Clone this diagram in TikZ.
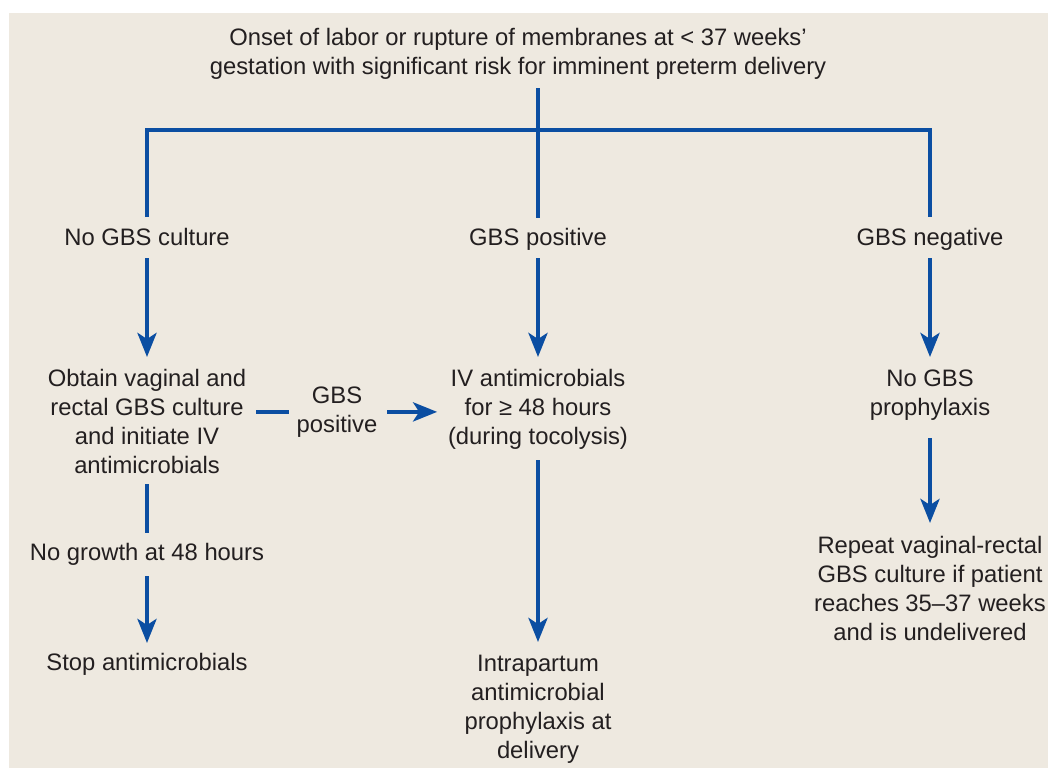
\documentclass[tikz,border=0pt]{standalone}
\usepackage{fontspec}
\setmainfont{Liberation Sans}
\usetikzlibrary{arrows.meta}
\definecolor{bgc}{HTML}{EEE9E0}
\definecolor{flow}{HTML}{0B4EA2}
\definecolor{ink}{HTML}{231F20}
\newcommand\fsz{\fontsize{23.8pt}{29pt}\selectfont}
\begin{document}
\begin{tikzpicture}[x=1pt,y=-1pt,
  txt/.style={font=\fsz, text=ink, align=center, inner sep=0pt, anchor=north},
  ln/.style={draw=flow, line width=4.3pt},
  arr/.style={ln, -{Stealth[length=24pt,width=19pt,inset=6pt]}}]
\useasboundingbox (0,0) rectangle (1048,768);
\fill[white] (0,0) rectangle (1048,768);
\fill[bgc] (9,13) rectangle (1048,768);
% nodes
\node[txt] (top) at (518,24.7) {\strut Onset of labor or rupture of membranes at < 37 weeks’\\gestation with significant risk for imminent preterm delivery\strut};
\node[txt] (nocult) at (147,224.7) {\strut No GBS culture\strut};
\node[txt] (gpos) at (538,224.7) {\strut GBS positive\strut};
\node[txt] (gneg) at (930,224.7) {\strut GBS negative\strut};
\node[txt] (obtain) at (147,365.7) {\strut Obtain vaginal and\\rectal GBS culture\\and initiate IV\\antimicrobials\strut};
\node[txt] (gbspl) at (337,382.7) {\strut GBS\\positive\strut};
\node[txt] (iv) at (538,365.7) {\strut IV antimicrobials\\for ≥ 48 hours\\(during tocolysis)\strut};
\node[txt] (noproph) at (930,365.7) {\strut No GBS\\prophylaxis\strut};
\node[txt] (nogrowth) at (147,539.7) {\strut No growth at 48 hours\strut};
\node[txt] (stop) at (147,649.7) {\strut Stop antimicrobials\strut};
\node[txt] (intra) at (538,650.7) {\strut Intrapartum\\antimicrobial\\prophylaxis at\\delivery\strut};
\node[txt] (repeat) at (930,532.7) {\strut Repeat vaginal-rectal\\GBS culture if patient\\reaches 35–37 weeks\\and is undelivered\strut};
\coordinate (jc) at (538,130);
% connectors
\draw[ln, shorten <=5.3pt, shorten >=6.7pt] (top.south -| gpos.north) -- (gpos.north);
\draw[ln, shorten <=7.7pt, shorten >=7.7pt] (nocult.north) |- (jc) -| (gneg.north);
\draw[arr, shorten <=4.3pt, shorten >=8.7pt] (nocult.south) -- (obtain.north);
\draw[arr, shorten <=4.3pt, shorten >=8.7pt] (gpos.south) -- (iv.north);
\draw[arr, shorten <=4.3pt, shorten >=8.7pt] (gneg.south) -- (noproph.north);
\draw[ln, shorten <=2.3pt, shorten >=6.7pt] (obtain.south) -- (nogrowth.north);
\draw[arr, shorten <=7.3pt, shorten >=6.7pt] (nogrowth.south) -- (stop.north);
\draw[ln, shorten <=10pt, shorten >=7.5pt] (obtain.east |- gbspl.west) -- (gbspl.west);
\draw[arr, shorten <=9.5pt, shorten >=10.7pt] (gbspl.east) -- (gbspl.east -| iv.west);
\draw[arr, shorten <=7.3pt, shorten >=8.7pt] (iv.south) -- (intra.north);
\draw[arr, shorten <=14.3pt, shorten >=9.7pt] (noproph.south) -- (repeat.north);
\end{tikzpicture}
\end{document}
